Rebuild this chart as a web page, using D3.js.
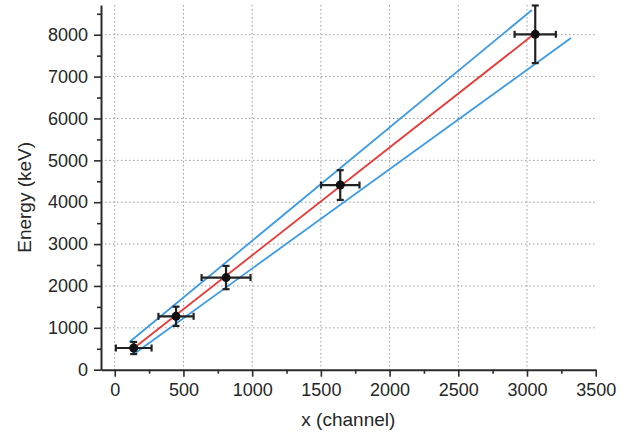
<!DOCTYPE html>
<html>
<head>
<meta charset="utf-8">
<script src="https://cdn.jsdelivr.net/npm/d3@7"></script>
<style>
  html, body { margin: 0; padding: 0; background: #fff; }
  svg { display: block; }
</style>
</head>
<body>
<svg id="chart" width="630" height="439"></svg>
<script>
// ---- data ----
const channel   = [138, 446, 810, 1641, 3060];
const energy    = [518, 1275, 2200, 4410, 8010];
const channelErr = [130, 128, 178, 140, 150];
const energyErr  = [145, 230, 278, 355, 688];
const fitLine   = [[138, 513], [3050, 8011]];
const upperLine = [[107, 661], [3036, 8590]];
const lowerLine = [[150, 399], [3320, 7921]];
const xMajorTicks = [0, 500, 1000, 1500, 2000, 2500, 3000, 3500];
const xMinorTicks = [250, 750, 1250, 1750, 2250, 2750, 3250];
const yMajorTicks = [0, 1000, 2000, 3000, 4000, 5000, 6000, 7000, 8000];
const yMinorTicks = [500, 1500, 2500, 3500, 4500, 5500, 6500, 7500, 8500];
const xGrid = [0, 500, 1000, 1500, 2000, 2500, 3000];
const yGrid = [1000, 2000, 3000, 4000, 5000, 6000, 7000, 8000];
const xTitle = "x (channel)";
const yTitle = "Energy (keV)";

(function () {
// ---- layout ----
const svg = d3.select("#chart");
const mLeft = 101, mRight = 595.7, mTop = 5, mBottom = 369.7;
const x = d3.scaleLinear().domain([-100, 3500]).range([mLeft, mRight]);
const y = d3.scaleLinear().domain([0, 8710]).range([mBottom, mTop]);
const font = "Liberation Sans, Arial, Helvetica, sans-serif";
const axisColor = "#2b2b2b";
const textColor = "#262626";

// grid
const grid = svg.append("g").attr("stroke", "#9a9a9a").attr("stroke-width", 1)
  .attr("stroke-dasharray", "1.5,2.5");
grid.selectAll("line.v").data(xGrid).join("line").attr("class", "v")
  .attr("x1", d => x(d)).attr("x2", d => x(d)).attr("y1", y(8710)).attr("y2", mBottom);
grid.selectAll("line.h").data(yGrid).join("line").attr("class", "h")
  .attr("x1", mLeft).attr("x2", mRight).attr("y1", d => y(d)).attr("y2", d => y(d));

// lines
const lineGen = d3.line().x(d => x(d[0])).y(d => y(d[1]));
svg.append("path").attr("d", lineGen(upperLine)).attr("fill", "none")
  .attr("stroke", "#3d9be6").attr("stroke-width", 1.8);
svg.append("path").attr("d", lineGen(lowerLine)).attr("fill", "none")
  .attr("stroke", "#3d9be6").attr("stroke-width", 1.8);
svg.append("path").attr("d", lineGen(fitLine)).attr("fill", "none")
  .attr("stroke", "#e83a36").attr("stroke-width", 1.8);

// error bars
const pts = channel.map((c, i) => ({x: c, y: energy[i], ex: channelErr[i], ey: energyErr[i]}));
const eb = svg.append("g").attr("stroke", "#222").attr("stroke-width", 2.2).attr("fill", "none");
const cap = 3.5;
pts.forEach(p => {
  const g = eb.append("g");
  g.append("line").attr("x1", x(p.x - p.ex)).attr("x2", x(p.x + p.ex)).attr("y1", y(p.y)).attr("y2", y(p.y));
  g.append("line").attr("x1", x(p.x)).attr("x2", x(p.x)).attr("y1", y(p.y - p.ey)).attr("y2", y(p.y + p.ey));
  g.append("line").attr("x1", x(p.x - p.ex)).attr("x2", x(p.x - p.ex)).attr("y1", y(p.y) - cap).attr("y2", y(p.y) + cap);
  g.append("line").attr("x1", x(p.x + p.ex)).attr("x2", x(p.x + p.ex)).attr("y1", y(p.y) - cap).attr("y2", y(p.y) + cap);
  g.append("line").attr("x1", x(p.x) - cap).attr("x2", x(p.x) + cap).attr("y1", y(p.y - p.ey)).attr("y2", y(p.y - p.ey));
  g.append("line").attr("x1", x(p.x) - cap).attr("x2", x(p.x) + cap).attr("y1", y(p.y + p.ey)).attr("y2", y(p.y + p.ey));
});
svg.append("g").selectAll("circle").data(pts).join("circle")
  .attr("cx", d => x(d.x)).attr("cy", d => y(d.y)).attr("r", 4.5).attr("fill", "#111");

// axes
function styleAxis(g) {
  g.attr("font-size", null).attr("font-family", null);
  g.selectAll("path").attr("stroke", axisColor).attr("stroke-width", 2);
  g.selectAll("line").attr("stroke", axisColor).attr("stroke-width", 1.6);
  g.selectAll("text").attr("fill", textColor).style("font-family", font).style("font-size", "18px");
}
const xAxis = svg.append("g").attr("transform", `translate(0,${mBottom})`)
  .call(d3.axisBottom(x).tickValues(xMajorTicks).tickFormat(d3.format("d")).tickSize(7).tickSizeOuter(0).tickPadding(7));
styleAxis(xAxis);
const xMinor = svg.append("g").attr("transform", `translate(0,${mBottom})`)
  .call(d3.axisBottom(x).tickValues(xMinorTicks).tickFormat("").tickSize(4).tickSizeOuter(0));
styleAxis(xMinor);
xMinor.select("path").remove();

const yAxis = svg.append("g").attr("transform", `translate(${mLeft},0)`)
  .call(d3.axisLeft(y).tickValues(yMajorTicks).tickFormat(d3.format("d")).tickSize(7).tickSizeOuter(0).tickPadding(6));
styleAxis(yAxis);
const yMinor = svg.append("g").attr("transform", `translate(${mLeft},0)`)
  .call(d3.axisLeft(y).tickValues(yMinorTicks).tickFormat("").tickSize(4).tickSizeOuter(0));
styleAxis(yMinor);
yMinor.select("path").remove();

// titles
svg.append("text").attr("x", (mLeft + mRight) / 2).attr("y", 426)
  .attr("text-anchor", "middle").style("font-family", font).style("font-size", "19px")
  .attr("fill", textColor).text(xTitle);
svg.append("text").attr("transform", `translate(31,${(mTop + mBottom) / 2 + 10}) rotate(-90)`)
  .attr("text-anchor", "middle").style("font-family", font).style("font-size", "19px")
  .attr("fill", textColor).text(yTitle);
})();
</script>
</body>
</html>
